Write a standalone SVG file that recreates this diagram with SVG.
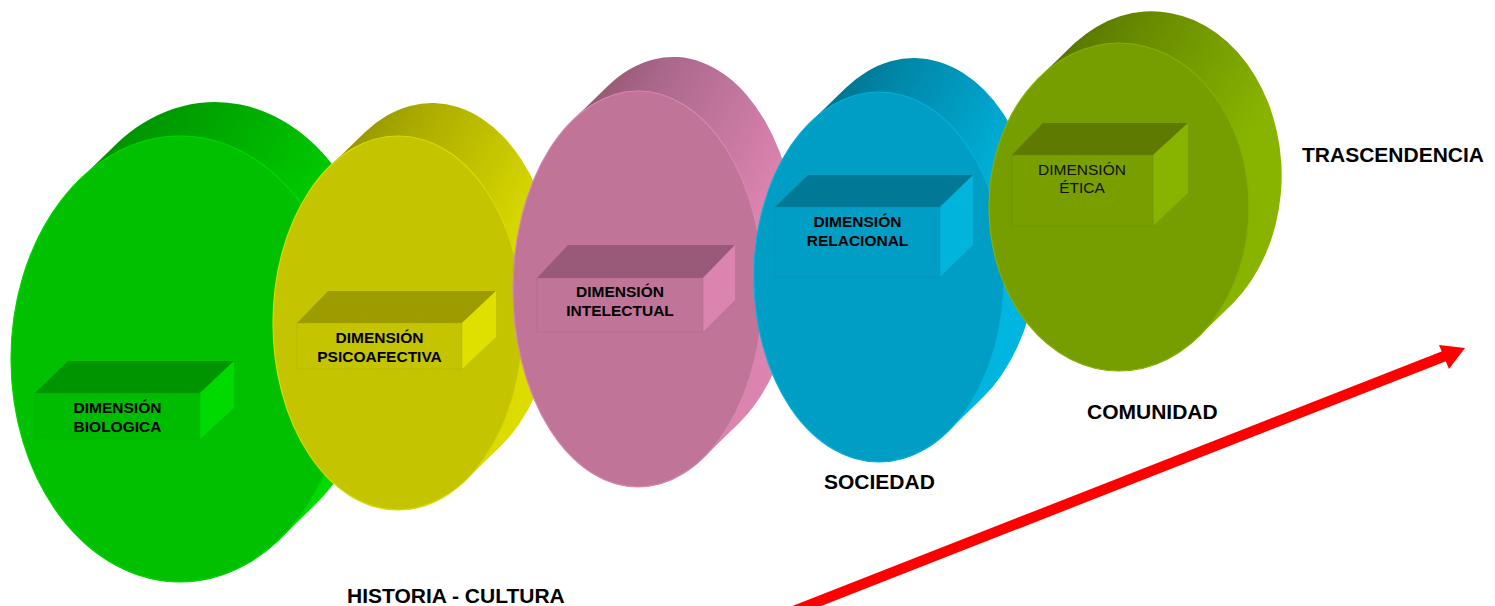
<svg xmlns="http://www.w3.org/2000/svg" width="1495" height="606" viewBox="0 0 1495 606">
<defs>
<style>
.lbl{font-family:"Liberation Sans",Arial,sans-serif;font-weight:bold;font-size:21px;fill:#000}
.bt{font-family:"Liberation Sans",Arial,sans-serif;font-weight:bold;font-size:15.5px;fill:#000;text-anchor:middle}
.btr{font-family:"Liberation Sans",Arial,sans-serif;font-weight:normal;font-size:15.5px;fill:#111;text-anchor:middle}
.edge{stroke-width:1;stroke-opacity:0.35}
</style>
<linearGradient id="gG" x1="0.35" y1="0" x2="0.85" y2="0.4"><stop offset="0" stop-color="#009400"/><stop offset="0.25" stop-color="#00a400"/><stop offset="1" stop-color="#00dc00"/></linearGradient>
<linearGradient id="gY" x1="0.35" y1="0" x2="0.85" y2="0.4"><stop offset="0" stop-color="#989800"/><stop offset="0.25" stop-color="#acac00"/><stop offset="1" stop-color="#dcdc00"/></linearGradient>
<linearGradient id="gP" x1="0.35" y1="0" x2="0.85" y2="0.4"><stop offset="0" stop-color="#965872"/><stop offset="0.25" stop-color="#aa688c"/><stop offset="1" stop-color="#dc84b0"/></linearGradient>
<linearGradient id="gB" x1="0.35" y1="0" x2="0.85" y2="0.4"><stop offset="0" stop-color="#007592"/><stop offset="0.25" stop-color="#0088aa"/><stop offset="1" stop-color="#00b6e0"/></linearGradient>
<linearGradient id="gO" x1="0.35" y1="0" x2="0.85" y2="0.4"><stop offset="0" stop-color="#5a7800"/><stop offset="0.25" stop-color="#688a00"/><stop offset="1" stop-color="#88b400"/></linearGradient>
</defs>
<rect width="1495" height="606" fill="#fff"/>

<g id="disc-biologica">
<path d="M79.8,179.4 L114.8,145.4 A169,223 0 0 1 315.2,504.6 L280.2,538.6 A169,223 0 0 1 79.8,179.4 Z" fill="url(#gG)"/>
<ellipse cx="180" cy="359" rx="169" ry="223" fill="#00c000" stroke="#00d800" stroke-width="1.2"/>
<polygon points="35,393 68,361 234,361 200,393" fill="#009400"/>
<polygon points="200,393 234,361 234,408 200,439" fill="#00da00"/>
<rect x="35" y="393" width="165" height="46" fill="#00bc00" stroke="#00a800" class="edge"/>
<text class="bt" x="117.5" y="413">DIMENSIÓN</text>
<text class="bt" x="117.5" y="432">BIOLOGICA</text>
</g>

<g id="disc-psicoafectiva">
<path d="M329.9,166.2 L364.9,132.2 A125,187 0 0 1 501.1,445.8 L466.1,479.8 A125,187 0 0 1 329.9,166.2 Z" fill="url(#gY)"/>
<ellipse cx="398" cy="323" rx="125" ry="187" fill="#c4c400" stroke="#dada00" stroke-width="1.2"/>
<polygon points="297,323 328,291 496,291 462,323" fill="#9c9c00"/>
<polygon points="462,323 496,291 496,337 462,369" fill="#e0e000"/>
<rect x="297" y="323" width="165" height="46" fill="#c4c400" stroke="#a8a800" class="edge"/>
<text class="bt" x="379.5" y="343">DIMENSIÓN</text>
<text class="bt" x="379.5" y="362">PSICOAFECTIVA</text>
</g>

<g id="disc-intelectual">
<path d="M572.6,120.2 L607.6,86.2 A125,198 0 0 1 738.4,423.8 L703.4,457.8 A125,198 0 0 1 572.6,120.2 Z" fill="url(#gP)"/>
<ellipse cx="638" cy="289" rx="125" ry="198" fill="#c07498" stroke="#d888b0" stroke-width="1.2"/>
<polygon points="537,278 568,245 735,245 703,278" fill="#985a78"/>
<polygon points="703,278 735,245 735,300 703,332" fill="#dc84b0"/>
<rect x="537" y="278" width="166" height="54" fill="#c07498" stroke="#a86080" class="edge"/>
<text class="bt" x="620" y="297">DIMENSIÓN</text>
<text class="bt" x="620" y="316">INTELECTUAL</text>
</g>

<g id="disc-relacional">
<path d="M810.4,122.3 L845.4,88.3 A125,185 0 0 1 982.6,397.7 L947.6,431.7 A125,185 0 0 1 810.4,122.3 Z" fill="url(#gB)"/>
<ellipse cx="879" cy="277" rx="125" ry="185" fill="#009dc4" stroke="#00b2dc" stroke-width="1.2"/>
<polygon points="775,207 808,175 973,175 940,207" fill="#007896"/>
<polygon points="940,207 973,175 973,245 940,277" fill="#00b4dc"/>
<rect x="775" y="207" width="165" height="70" fill="#009ec4" stroke="#0086a8" class="edge"/>
<text class="bt" x="857.5" y="227">DIMENSIÓN</text>
<text class="bt" x="857.5" y="246">RELACIONAL</text>
</g>

<g id="disc-etica">
<path d="M1039.7,77.1 L1074.7,43.1 A130,164 0 0 1 1233.3,302.9 L1198.3,336.9 A130,164 0 0 1 1039.7,77.1 Z" fill="url(#gO)"/>
<ellipse cx="1119" cy="207" rx="130" ry="164" fill="#779e00" stroke="#84b000" stroke-width="1.2"/>
<polygon points="1012,155 1043,123 1188,123 1153,155" fill="#5e7a00"/>
<polygon points="1153,155 1188,123 1188,193 1153,226" fill="#88b400"/>
<rect x="1012" y="155" width="141" height="71" fill="#789e00" stroke="#668800" class="edge"/>
<text class="btr" x="1082" y="175">DIMENSIÓN</text>
<text class="btr" x="1082" y="193">ÉTICA</text>
</g>

<g id="labels">
<text class="lbl" x="1302" y="162">TRASCENDENCIA</text>
<text class="lbl" x="1087" y="419">COMUNIDAD</text>
<text class="lbl" x="824" y="489">SOCIEDAD</text>
<text class="lbl" x="347" y="603">HISTORIA - CULTURA</text>
</g>

<g id="connectors">
<line x1="780" y1="616.5" x2="1446" y2="355.5" stroke="#ff0000" stroke-width="10.5"/>
<polygon points="1465,348 1439,345 1449,369" fill="#ff0000"/>
</g>
</svg>
